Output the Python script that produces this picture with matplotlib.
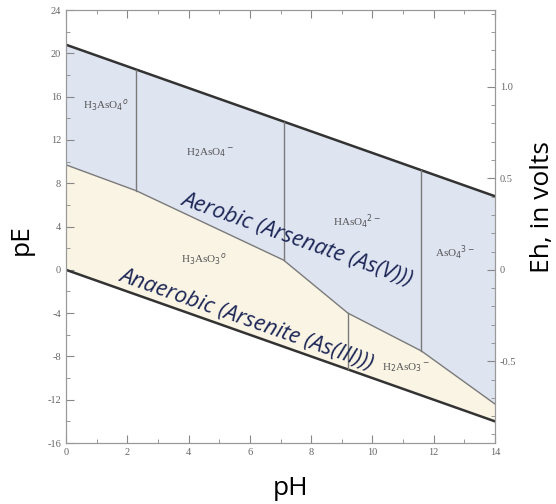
import numpy as np
import matplotlib.pyplot as plt
from matplotlib.ticker import MultipleLocator

plt.rcParams['axes.unicode_minus'] = False

# water stability limits (pE vs pH)
water_ph = [0, 14]
water_upper = [20.8, 6.8]
water_lower = [0.0, -14.0]

# As(V) / As(III) boundary
redox_ph = [0, 2.3, 7.1, 9.2, 11.6, 14]
redox_pe = [9.7, 7.3, 0.9, -4.0, -7.5, -12.4]

# acid dissociation boundaries
asv_pka = [2.3, 7.1, 11.6]
asiii_pka = [9.2]

species = ['H$_3$AsO$_4$$^o$', 'H$_2$AsO$_4$$^-$', 'HAsO$_4$$^{2-}$', 'AsO$_4$$^{3-}$',
           'H$_3$AsO$_3$$^o$', 'H$_2$AsO$_3$$^-$']
species_ph = [1.3, 4.7, 9.5, 12.7, 4.5, 11.1]
species_pe = [15.2, 10.8, 4.4, 1.6, 1.0, -9.0]

fig = plt.figure(figsize=(5.56, 5.04), dpi=100)
ax = fig.add_axes([0.1187, 0.121, 0.7716, 0.859])

x = np.linspace(0, 14, 281)
up = np.interp(x, water_ph, water_upper)
lo = np.interp(x, water_ph, water_lower)
rd = np.interp(x, redox_ph, redox_pe)
ax.fill_between(x, rd, up, color='#dfe4f1', lw=0)
ax.fill_between(x, lo, rd, color='#f9f4e4', lw=0)

ax.plot(water_ph, water_upper, color='#333333', lw=1.8)
ax.plot(water_ph, water_lower, color='#333333', lw=1.8)
ax.plot(redox_ph, redox_pe, color='#7a7a7a', lw=1.0)
for p in asv_pka:
    ax.plot([p, p], [np.interp(p, redox_ph, redox_pe), np.interp(p, water_ph, water_upper)],
            color='#7a7a7a', lw=1.0)
for p in asiii_pka:
    ax.plot([p, p], [np.interp(p, water_ph, water_lower), np.interp(p, redox_ph, redox_pe)],
            color='#7a7a7a', lw=1.0)

for s, px, py in zip(species, species_ph, species_pe):
    ax.text(px, py, s, fontsize=8, family='Liberation Serif', color='#555555',
            ha='center', va='center')

ax.text(7.55, 2.8, 'Aerobic (Arsenate (As(V)))', rotation=-19.5, fontsize=16,
        style='italic', family='Open Sans', color='#1c2656', ha='center', va='center')
ax.text(5.9, -4.6, 'Anaerobic (Arsenite (As(III)))', rotation=-19.5, fontsize=16,
        style='italic', family='Open Sans', color='#1c2656', ha='center', va='center')

ax.set_xlim(0, 14)
ax.set_ylim(-16, 24)
ax.xaxis.set_major_locator(MultipleLocator(2))
ax.xaxis.set_minor_locator(MultipleLocator(1))
ax.yaxis.set_major_locator(MultipleLocator(4))
ax.yaxis.set_minor_locator(MultipleLocator(2))
ax.tick_params(which='both', direction='in', top=True, colors='#888888',
               labelcolor='#666666', labelsize=7.5)
ax.tick_params(which='major', length=6)
ax.tick_params(which='minor', length=3)
for lab in ax.get_xticklabels() + ax.get_yticklabels():
    lab.set_family('Liberation Serif')
for sp in ax.spines.values():
    sp.set_color('#999999')

ax2 = ax.twinx()
ax2.set_ylim(-16 * 0.05916, 24 * 0.05916)
ax2.yaxis.set_major_locator(MultipleLocator(0.5))
ax2.yaxis.set_minor_locator(MultipleLocator(0.1))
ax2.yaxis.set_major_formatter(plt.FuncFormatter(lambda v, p: '0' if abs(v) < 1e-9 else f'{v:.1f}'))
ax2.tick_params(which='both', direction='in', colors='#888888', labelcolor='#666666', labelsize=7.5)
ax2.tick_params(which='major', length=6)
ax2.tick_params(which='minor', length=3)
for lab in ax2.get_yticklabels():
    lab.set_family('Liberation Serif')
for sp in ax2.spines.values():
    sp.set_color('#999999')

fig.text(0.038, 0.524, 'pE', rotation=90, fontsize=19, family='Open Sans', ha='center', va='center')
fig.text(0.522, 0.03, 'pH', fontsize=19, family='Open Sans', ha='center', va='center')
fig.text(0.975, 0.59, 'Eh, in volts', rotation=90, fontsize=19, family='Open Sans',
         ha='center', va='center')

fig.savefig('out.png', dpi=100)
